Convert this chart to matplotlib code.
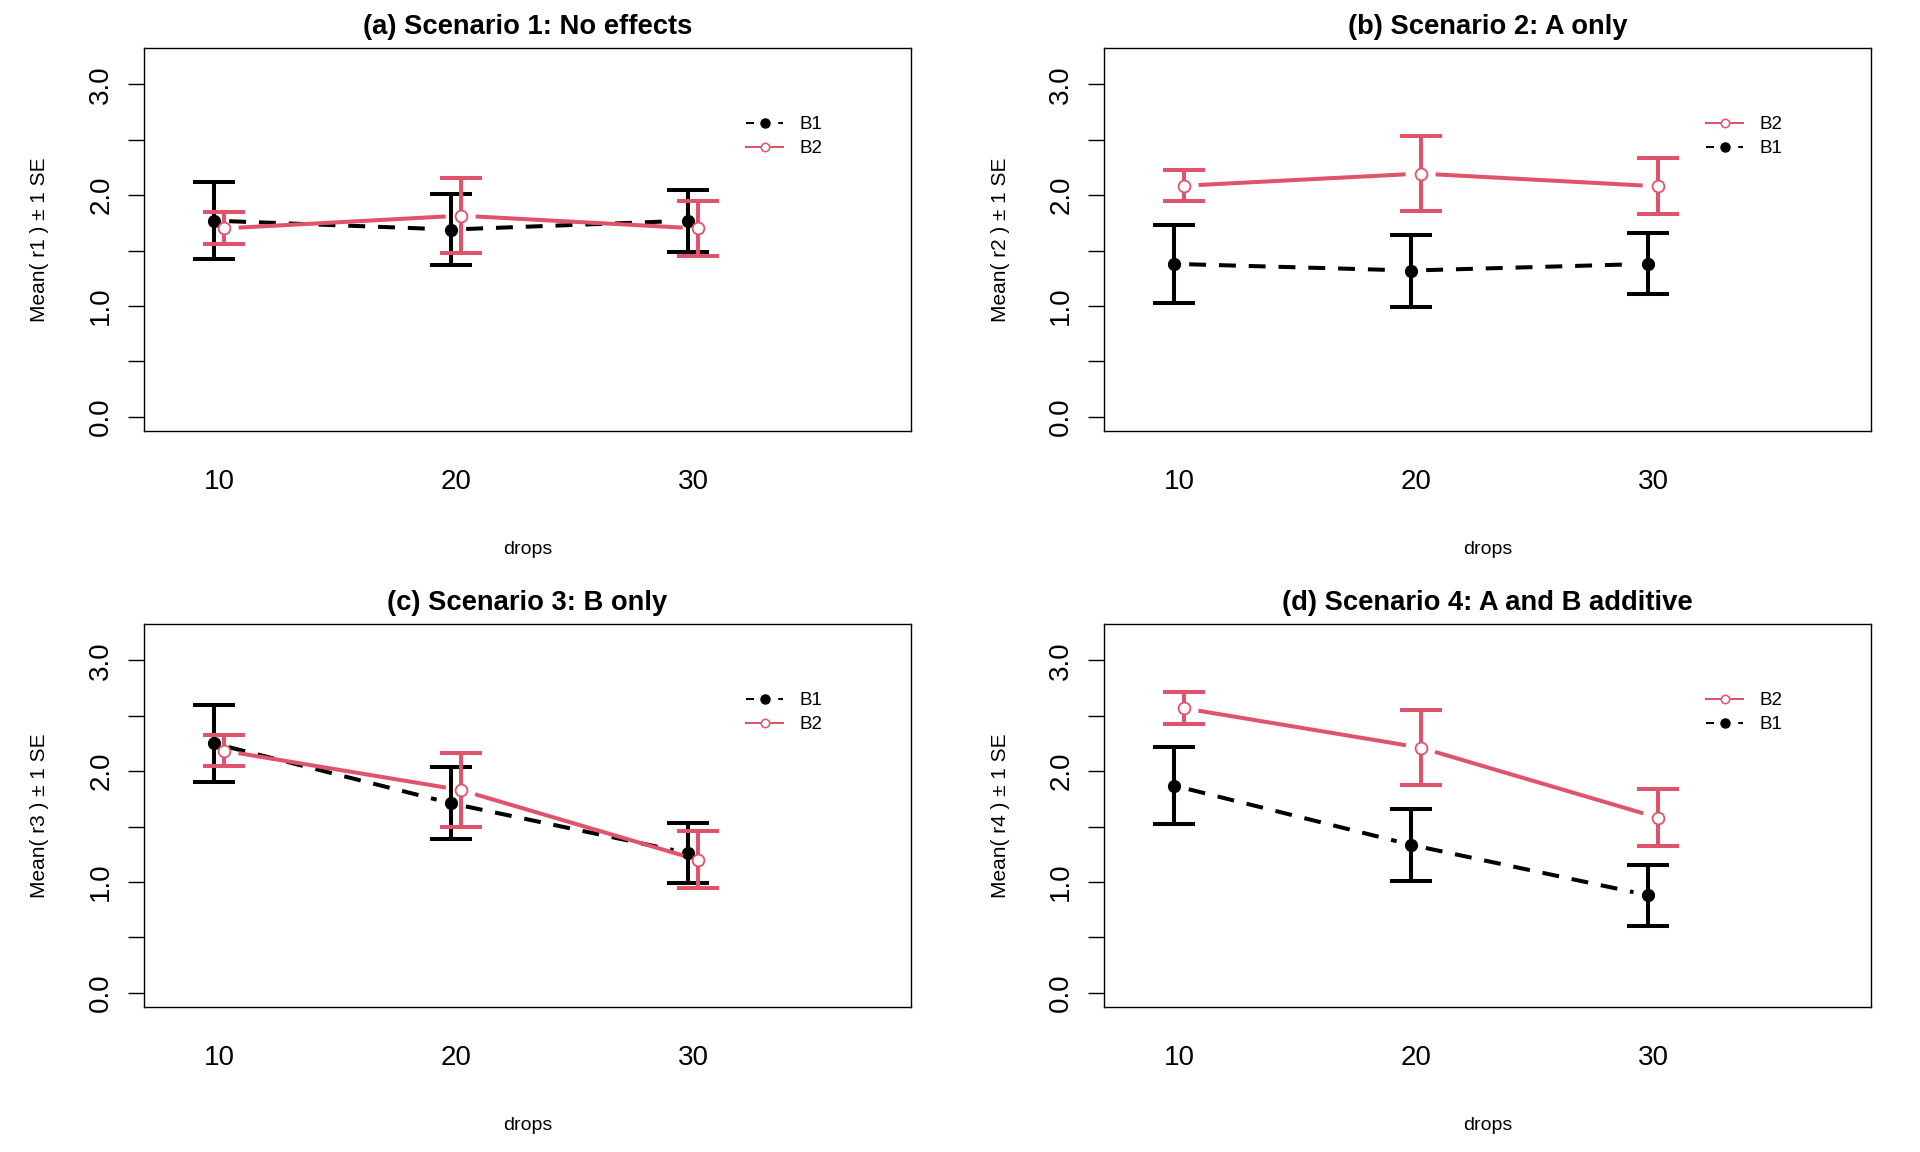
import numpy as np
import matplotlib
matplotlib.use("Agg")
import matplotlib.pyplot as plt
from matplotlib.lines import Line2D

plt.rcParams['font.family'] = ['Liberation Sans', 'DejaVu Sans']

# Data
drops = [10, 20, 30]
titles = ["(a) Scenario 1: No effects", "(b) Scenario 2: A only",
          "(c) Scenario 3: B only", "(d) Scenario 4: A and B additive"]
responses = ["r1", "r2", "r3", "r4"]

b1_mean = [[1.77, 1.69, 1.77], [1.38, 1.32, 1.38], [2.25, 1.71, 1.26], [1.87, 1.335, 0.88]]
b1_se = [[0.35, 0.32, 0.28], [0.35, 0.325, 0.275], [0.346, 0.325, 0.27], [0.35, 0.325, 0.277]]
b2_mean = [[1.70, 1.815, 1.70], [2.085, 2.195, 2.08], [2.185, 1.83, 1.20], [2.568, 2.212, 1.581]]
b2_se = [[0.145, 0.338, 0.25], [0.14, 0.335, 0.252], [0.141, 0.338, 0.256], [0.144, 0.338, 0.26]]
legend_order = [["B1", "B2"], ["B2", "B1"], ["B1", "B2"], ["B2", "B1"]]

red = "#DF536B"
W, H = 1920, 1152
fig = plt.figure(figsize=(W / 100, H / 100), dpi=100)

LW = 2.9      # ~4 px
GAP = 15      # px gap around points (R type="b")
DODGE = 0.2


def gapped_line(ax, xs, ys, **kw):
    pts = ax.transData.transform(np.column_stack([xs, ys]))
    inv = ax.transData.inverted()
    for p0, p1 in zip(pts[:-1], pts[1:]):
        d = p1 - p0
        u = d / np.hypot(*d)
        seg = inv.transform([p0 + u * GAP, p1 - u * GAP])
        ax.plot(seg[:, 0], seg[:, 1], **kw)


for i in range(4):
    col, row = i % 2, i // 2
    ax = fig.add_axes([144 / W + col * 0.5, 1 - 431 / H - row * 0.5, 767 / W, 383 / H])
    ax.set_xlim(6.84, 39.2)
    ax.set_ylim(-0.128, 3.328)

    x1 = np.array(drops) - DODGE
    x2 = np.array(drops) + DODGE

    # B1: black dashed, filled points
    gapped_line(ax, x1, b1_mean[i], color="black", lw=LW, ls=(0, (4.2, 3.2)),
                solid_capstyle="butt", dash_capstyle="butt")
    ax.errorbar(x1, b1_mean[i], yerr=b1_se[i], fmt="none", ecolor="black",
                elinewidth=LW, capsize=15, capthick=LW)
    ax.plot(x1, b1_mean[i], "o", color="black", ms=8.5, ls="none")

    # B2: red solid, open points
    gapped_line(ax, x2, b2_mean[i], color=red, lw=LW, solid_capstyle="butt")
    ax.errorbar(x2, b2_mean[i], yerr=b2_se[i], fmt="none", ecolor=red,
                elinewidth=LW, capsize=15, capthick=LW)
    ax.plot(x2, b2_mean[i], "o", mfc="white", mec=red, mew=1.3, ms=8.5, ls="none")

    # axes styling (R-like)
    for s in ax.spines.values():
        s.set_linewidth(1.0)
    ax.set_yticks([0, 0.5, 1, 1.5, 2, 2.5, 3])
    ax.set_yticklabels(["0.0", "", "1.0", "", "2.0", "", "3.0"])
    ax.tick_params(axis="y", length=11.5, width=1.0, pad=10, labelsize=20,
                   labelrotation=90)
    for lab in ax.get_yticklabels():
        lab.set_va("center")
    ax.set_xticks(drops)
    ax.set_xticklabels([str(d) for d in drops])
    ax.tick_params(axis="x", length=0, pad=27.5, labelsize=20)

    ax.set_xlabel("drops", fontsize=14)
    ax.xaxis.set_label_coords(0.5, -(550 - 431) / 383)
    ax.xaxis.label.set_va("center")
    ax.set_ylabel("Mean( %s ) \u00b1 1 SE" % responses[i], fontsize=15)
    ax.yaxis.set_label_coords((40 - 144) / 767, 0.5)
    ax.yaxis.label.set_va("center")

    ax.text(0.5, 1 + 21 / 383, titles[i], transform=ax.transAxes,
            ha="center", va="center", fontsize=19.7, fontweight="bold")

    handles = {
        "B1": Line2D([], [], color="black", lw=1.45, ls=(0, (4, 12)),
                     marker="o", ms=6.5, mfc="black"),
        "B2": Line2D([], [], color=red, lw=1.45, marker="o", ms=6,
                     mfc="white", mec=red, mew=1.1),
    }
    order = legend_order[i]
    ax.legend([handles[k] for k in order], order, loc="upper left",
              bbox_to_anchor=(0.785, 0.822), frameon=False, fontsize=13.5,
              borderpad=0, borderaxespad=0, handlelength=1.97,
              handletextpad=0.9, labelspacing=0.37)

fig.savefig("out.png", dpi=100)
